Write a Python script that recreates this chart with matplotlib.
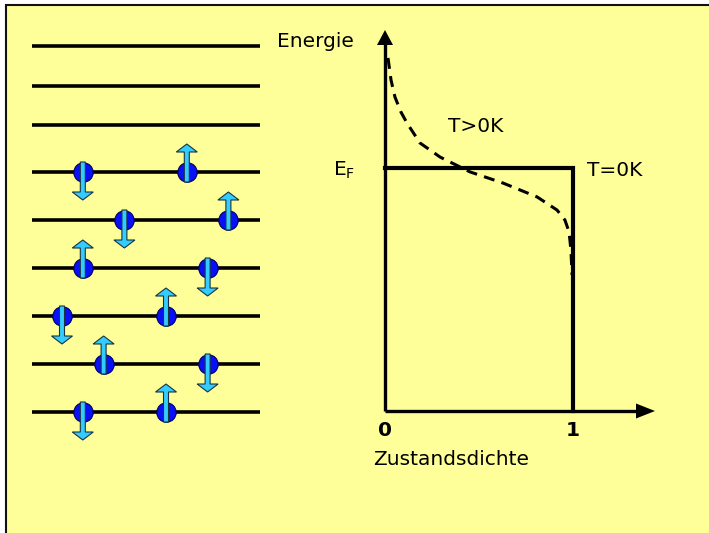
import matplotlib
matplotlib.use('Agg')
import matplotlib.pyplot as plt
from matplotlib.patches import FancyArrow, Rectangle

# energy levels (left panel), level index -> relative energy
level_energy = [0, 1, 2, 3, 4, 5, 5.98, 6.79, 7.63]
# electrons: (level index, slot on the line, spin +1 up / -1 down)
elec_level = [5, 5, 4, 4, 3, 3, 2, 2, 1, 1, 0, 0]
elec_slot = [1, 6, 3, 8, 1, 7, 0, 5, 2, 7, 1, 5]
elec_spin = [-1, 1, -1, 1, 1, -1, -1, 1, 1, -1, -1, 1]

# density of states (right panel)
step_d = [0, 1, 1]
step_E = [1, 1, 0]
fermi_d = [0.016, 0.032, 0.053, 0.085, 0.117, 0.186, 0.293, 0.452, 0.628,
           0.809, 0.915, 0.957, 0.979, 0.989, 0.995]
fermi_E = [1.453, 1.362, 1.292, 1.230, 1.185, 1.103, 1.045, 0.984, 0.938,
           0.881, 0.827, 0.786, 0.737, 0.663, 0.560]

W, H = 709, 533
YELLOW = '#FFFF99'
BLUE = '#0A10F5'
CYAN = '#33CCFF'

fig = plt.figure(figsize=(W / 100, H / 100), dpi=100, facecolor='white')
fig.patches.append(Rectangle((6 / W, -0.02), 1.05, 1.02 - 5 / H, transform=fig.transFigure,
                             facecolor=YELLOW, edgecolor='#111111', lw=1.5, zorder=-10))


def px_axes(x0, y0, x1, y1):
    a = fig.add_axes([x0 / W, 1 - y1 / H, (x1 - x0) / W, (y1 - y0) / H])
    a.set_axis_off()
    a.patch.set_alpha(0)
    return a


# ---- left panel: levels with spins ----
sx, sy = 20.8, 48.0   # pixels per slot / per level
ax = px_axes(20, 20, 280, 460)
ax.set_xlim((20 - 62) / sx, (280 - 62) / sx)
ax.set_ylim((412 - 460) / sy, (412 - 20) / sy)

for e in level_energy:
    ax.plot([-1.44, 9.52], [e, e], color='black', lw=2.6, solid_capstyle='butt', zorder=1)

for lv, s, sp in zip(elec_level, elec_slot, elec_spin):
    y = level_energy[lv]
    ax.scatter([s], [y], s=195, color=BLUE, edgecolors='#000055', linewidths=0.8, zorder=2)
    tail = y - sp * 10 / sy
    ax.add_patch(FancyArrow(s, tail, 0, sp * 38 / sy, width=5 / sx, head_width=21 / sx,
                            head_length=8 / sy, length_includes_head=True,
                            facecolor=CYAN, edgecolor='#1a3340', lw=0.8, zorder=3))

# ---- right panel: density of states ----
ox, oy = 385, 411
dx, dy = 188.0, 243.0
ax2 = px_axes(300, 20, 705, 490)
ax2.set_xlim((300 - ox) / dx, (705 - ox) / dx)
ax2.set_ylim((oy - 490) / dy, (oy - 20) / dy)

ax2.plot([0, 0], [0, (oy - 44) / dy], color='black', lw=2.4, solid_capstyle='butt')
ax2.add_patch(FancyArrow(0, (oy - 46) / dy, 0, 16 / dy, width=0, head_width=16 / dx,
                         head_length=15 / dy, length_includes_head=True,
                         color='black', lw=0))
ax2.plot([0, (637 - ox) / dx], [0, 0], color='black', lw=2.4, solid_capstyle='butt')
ax2.add_patch(FancyArrow((635 - ox) / dx, 0, 20 / dx, 0, width=0, head_width=15 / dy,
                         head_length=19 / dx, length_includes_head=True,
                         color='black', lw=0))

ax2.plot([0] + step_d, [1] + step_E, color='black', lw=3.0, solid_joinstyle='miter')
ax2.plot(fermi_d, fermi_E, color='black', lw=2.2, linestyle=(0, (3.6, 2.4)))

fs = 14.5
ax2.text((277 - ox) / dx, (oy - 42) / dy, 'Energie', fontsize=fs, ha='left', va='center')
ax2.text((476 - ox) / dx, (oy - 127) / dy, 'T>0K', fontsize=fs, ha='center', va='center')
ax2.text((615 - ox) / dx, (oy - 171) / dy, 'T=0K', fontsize=fs, ha='center', va='center')
ax2.text((333 - ox) / dx, (oy - 170) / dy, r'E$_\mathregular{F}$', fontsize=fs, ha='left', va='center')
ax2.text(0, -0.08, '0', fontsize=fs, fontweight='bold', ha='center', va='center')
ax2.text(1, -0.08, '1', fontsize=fs, fontweight='bold', ha='center', va='center')
ax2.text((373 - ox) / dx, (oy - 460) / dy, 'Zustandsdichte', fontsize=fs, ha='left', va='center')

fig.savefig('out.png', dpi=100, facecolor='white')
